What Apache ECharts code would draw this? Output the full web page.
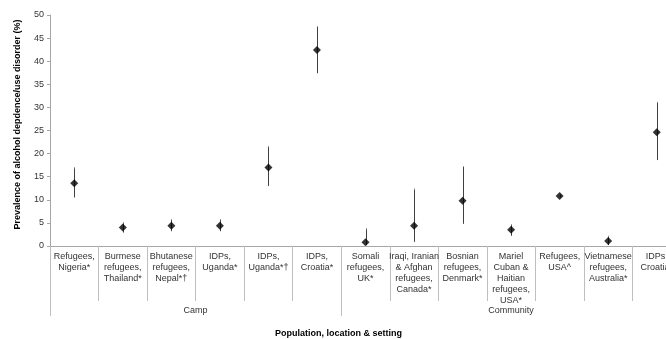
<!DOCTYPE html>
<html>
<head>
<meta charset="utf-8">
<script src="https://cdn.jsdelivr.net/npm/echarts@6/dist/echarts.min.js"></script>
<style>html,body{margin:0;padding:0;background:#fff;overflow:hidden;width:666px;height:339px}#c{width:700px;height:339px}</style>
</head>
<body>
<div id="c"></div>
<script>
var categories = [
  'Refugees,\nNigeria*', 'Burmese\nrefugees,\nThailand*', 'Bhutanese\nrefugees,\nNepal*†',
  'IDPs,\nUganda*', 'IDPs,\nUganda*†', 'IDPs,\nCroatia*',
  'Somali\nrefugees,\nUK*', 'Iraqi, Iranian\n& Afghan\nrefugees,\nCanada*', 'Bosnian\nrefugees,\nDenmark*',
  'Mariel\nCuban &\nHaitian\nrefugees,\nUSA*', 'Refugees,\nUSA^', 'Vietnamese\nrefugees,\nAustralia*', 'IDPs,\nCroatia*'
];
var prevalence = [13.6, 4.0, 4.4, 4.4, 17.0, 42.4, 0.8, 4.4, 9.8, 3.5, 10.8, 1.1, 24.6];
var lowerCI    = [10.5, 2.9, 3.2, 3.2, 13.0, 37.4, 0.2, 0.9, 4.8, 2.2, 10.5, 0.2, 18.6];
var upperCI    = [17.0, 5.1, 5.8, 5.8, 21.6, 47.6, 3.8, 12.4, 17.3, 4.7, 11.2, 2.2, 31.2];
var groupNames = ['Camp', 'Community'];
var groupCenters = [3, 9.5];
var groupBounds = [0, 6, 13];
var yTicks = {min: 0, max: 50, interval: 5};

var chart = echarts.init(document.getElementById('c'), null, {renderer: 'canvas'});
var font = 'Liberation Sans, Arial, sans-serif';
var errData = categories.map(function (c, i) { return [i, lowerCI[i], upperCI[i]]; });
var ptData = categories.map(function (c, i) { return [i, prevalence[i]]; });

chart.setOption({
  animation: false,
  grid: {left: 50, top: 15, right: 19, bottom: 93, containLabel: false},
  xAxis: [{
    type: 'category',
    data: categories,
    position: 'bottom',
    axisLine: {show: true, lineStyle: {color: '#a6a6a6', width: 1}},
    axisTick: {show: true, alignWithLabel: false, interval: 0, length: 55, lineStyle: {color: '#bfbfbf'}},
    axisLabel: {interval: 0, margin: 5, fontSize: 9, lineHeight: 11, color: '#333', fontFamily: font, align: 'center'},
    splitLine: {show: false}
  }, {
    type: 'value',
    min: 0, max: 13,
    position: 'bottom',
    axisLine: {show: false},
    axisTick: {show: true, customValues: groupBounds, length: 70, lineStyle: {color: '#bfbfbf'}},
    axisLabel: {show: true, customValues: groupCenters, margin: 60, fontSize: 9, color: '#333', fontFamily: font,
      formatter: function (v) { var k = groupCenters.indexOf(v); return k >= 0 ? groupNames[k] : ''; }},
    splitLine: {show: false}
  }],
  yAxis: {
    type: 'value',
    min: yTicks.min, max: yTicks.max, interval: yTicks.interval,
    name: 'Prevalence of alcohol depdence/use disorder (%)',
    nameLocation: 'middle',
    nameGap: 28,
    nameTextStyle: {fontSize: 9, fontWeight: 'bold', color: '#000', fontFamily: font, padding: [0, 0, 0, 12]},
    axisLine: {show: true, lineStyle: {color: '#a6a6a6'}},
    axisTick: {show: true, length: 3, lineStyle: {color: '#a6a6a6'}},
    axisLabel: {fontSize: 9, color: '#333', fontFamily: font, margin: 6},
    splitLine: {show: false}
  },
  graphic: [{
    type: 'text', left: 275, top: 329,
    style: {text: 'Population, location & setting', font: 'bold 9px ' + font, fill: '#000'}
  }],
  series: [{
    type: 'custom',
    xAxisIndex: 0,
    data: errData,
    renderItem: function (params, api) {
      var lo = api.coord([api.value(0), api.value(1)]);
      var hi = api.coord([api.value(0), api.value(2)]);
      var x = Math.round(lo[0]) + 0.5;
      return {type: 'group', children: [
        {type: 'line', shape: {x1: x, y1: lo[1], x2: x, y2: hi[1]}, style: {stroke: '#404040', lineWidth: 1}},
        {type: 'line', shape: {x1: x, y1: hi[1], x2: x, y2: hi[1] + 1}, style: {stroke: '#9bbb59', lineWidth: 1}}
      ]};
    },
    z: 2
  }, {
    type: 'scatter',
    xAxisIndex: 0,
    data: ptData,
    symbol: 'diamond',
    symbolSize: 8,
    itemStyle: {color: '#000'},
    z: 3
  }]
});
</script>
</body>
</html>
